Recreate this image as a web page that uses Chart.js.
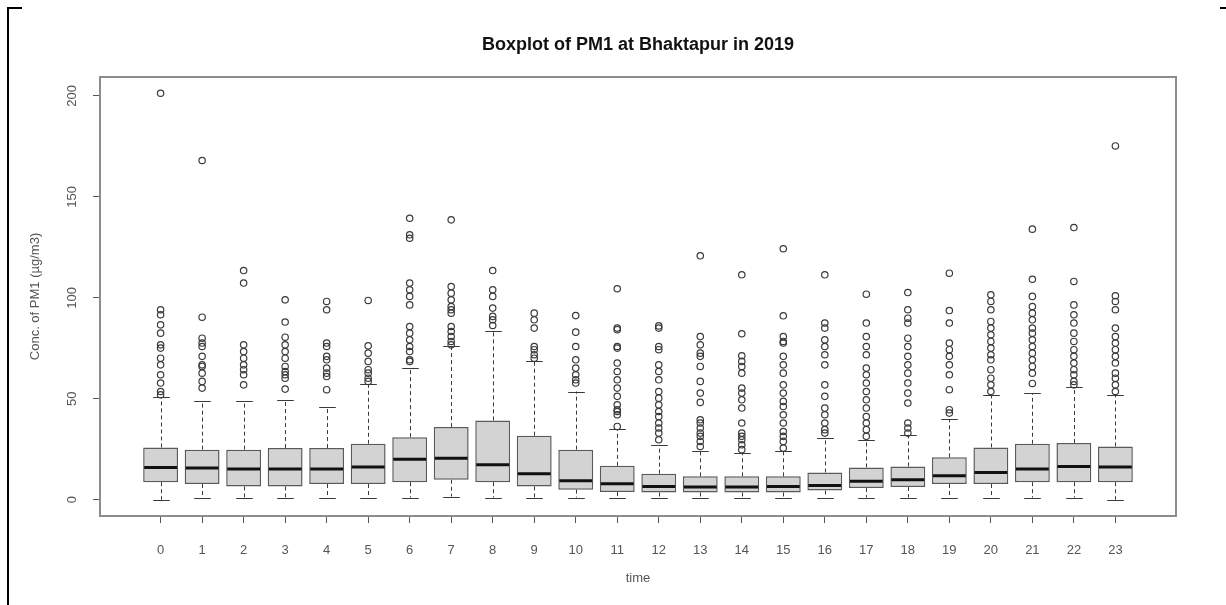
<!DOCTYPE html>
<html>
<head>
<meta charset="utf-8">
<title>Boxplot of PM1 at Bhaktapur in 2019</title>
<script src="https://cdn.jsdelivr.net/npm/chart.js@4.4.1/dist/chart.umd.min.js"></script>
<style>
  html, body { margin: 0; padding: 0; background: #fff; }
  #wrap { position: relative; width: 1226px; height: 605px; overflow: hidden; }
  #wrap canvas { position: absolute; left: 0; top: 0; }
  /* bits of the page frame around the figure */
  .edge { position: absolute; background: #000; }
</style>
</head>
<body>
<div id="wrap">
  <canvas id="c" width="1226" height="605"></canvas>
  <div class="edge" style="left:7px;top:7px;width:2px;height:598px"></div>
  <div class="edge" style="left:7px;top:7px;width:15px;height:2px"></div>
  <div class="edge" style="left:1220px;top:7px;width:6px;height:2px"></div>
</div>
<script>
// ---- data (hour of day -> PM1, µg/m3) ----
const hours = [0, 1, 2, 3, 4, 5, 6, 7, 8, 9, 10, 11, 12, 13, 14, 15, 16, 17, 18, 19, 20, 21, 22, 23];
const yTicks = [0, 50, 100, 150, 200];

const whiskerLow  = [0, 0.8, 0.8, 0.8, 0.8, 0.8, 1.1, 1.6, 1.1, 1.1, 1.1, 1.1, 1.1, 1.1, 1.1, 1.1, 1.1, 1.1, 1.1, 0.8, 1.1, 1.1, 1.1, 0];
const q1          = [8.7, 7.8, 6.6, 6.6, 7.8, 7.8, 8.7, 9.9, 8.7, 6.6, 5.0, 3.8, 3.6, 3.6, 3.6, 3.6, 4.6, 5.8, 6.3, 7.8, 7.8, 8.7, 8.7, 8.7];
const medians     = [16.0, 15.7, 15.2, 15.2, 15.2, 16.2, 20.1, 20.6, 17.3, 12.9, 9.4, 7.9, 6.6, 6.3, 6.3, 6.6, 7.1, 9.1, 9.9, 11.9, 13.5, 15.2, 16.5, 16.2];
const q3          = [25.9, 24.8, 24.8, 25.6, 25.6, 27.7, 31.0, 36.0, 39.3, 31.7, 24.8, 16.8, 12.9, 11.6, 11.6, 11.6, 13.5, 16.0, 16.5, 21.0, 25.9, 27.7, 28.1, 26.4];
const whiskerHigh = [50.7, 48.7, 48.7, 49.5, 45.7, 57.4, 65.2, 75.9, 83.8, 68.5, 53.6, 35.0, 27.2, 23.9, 23.1, 23.9, 30.5, 29.7, 32.2, 39.9, 52.0, 52.8, 55.8, 52.0];

// outliers per hour (one list per box)
const outlierValues = [
  [201.3, 94.1, 91.6, 86.6, 82.5, 76.7, 75.1, 70.1, 66.8, 61.9, 57.8, 53.6, 52.0],
  [168.0, 90.4, 80.0, 77.6, 75.9, 71.0, 66.8, 66.0, 62.7, 58.6, 55.3],
  [113.5, 107.3, 76.7, 73.4, 70.1, 66.8, 64.4, 61.9, 56.9],
  [99.0, 88.0, 80.5, 76.7, 73.4, 70.1, 66.0, 63.5, 61.9, 60.2, 54.8],
  [98.2, 94.1, 77.6, 75.9, 71.0, 69.3, 65.2, 62.7, 61.0, 54.5],
  [98.7, 76.2, 72.6, 68.5, 64.4, 62.7, 60.2, 58.6],
  [139.4, 131.2, 129.5, 107.3, 104.0, 100.7, 96.5, 85.8, 82.5, 79.2, 75.9, 73.4, 69.3, 68.5],
  [138.6, 105.6, 102.3, 99.0, 95.7, 94.1, 92.4, 85.8, 83.3, 80.8, 78.4, 76.7],
  [113.5, 104.0, 100.7, 94.9, 90.8, 89.1, 86.3],
  [92.4, 89.1, 85.0, 75.9, 74.3, 71.8, 70.1],
  [91.2, 83.0, 75.9, 69.3, 65.2, 61.9, 59.4, 57.8],
  [104.5, 85.0, 84.2, 75.9, 75.1, 67.7, 63.5, 59.4, 55.3, 51.2, 47.0, 44.6, 43.7, 42.1, 36.3],
  [86.1, 85.0, 75.9, 74.3, 66.8, 63.5, 59.4, 53.6, 50.3, 47.0, 43.7, 41.2, 38.0, 35.5, 33.0, 29.7],
  [120.8, 80.8, 76.7, 72.6, 71.0, 66.0, 58.6, 52.8, 48.2, 39.6, 38.0, 35.5, 33.0, 31.4, 28.9, 26.4],
  [111.4, 82.2, 71.3, 68.5, 66.0, 62.7, 55.3, 52.8, 49.5, 45.4, 38.0, 33.0, 31.4, 29.7, 27.2, 24.8],
  [124.3, 91.1, 80.8, 78.4, 77.6, 71.0, 66.8, 62.7, 56.9, 52.8, 48.7, 46.2, 42.1, 38.0, 33.8, 31.4, 28.9, 25.6],
  [111.4, 87.5, 85.0, 79.2, 75.9, 71.8, 66.8, 56.9, 51.2, 45.4, 42.1, 38.0, 34.7, 33.0],
  [101.8, 87.5, 80.8, 75.9, 71.8, 65.2, 61.9, 57.8, 53.6, 49.5, 45.4, 41.2, 38.0, 34.7, 31.4],
  [102.6, 94.1, 89.9, 87.5, 80.0, 75.9, 71.0, 66.8, 62.7, 57.8, 52.8, 47.9, 38.0, 35.5, 33.0],
  [112.2, 93.7, 87.5, 77.6, 74.3, 71.0, 66.8, 61.9, 54.5, 44.6, 42.9],
  [101.5, 98.2, 94.1, 88.3, 85.0, 81.7, 78.4, 75.1, 71.8, 69.3, 64.4, 60.2, 56.9, 53.6],
  [134.0, 109.2, 100.7, 95.7, 92.4, 89.1, 85.0, 82.5, 79.2, 75.9, 72.6, 69.3, 66.0, 62.7, 57.6],
  [134.8, 108.1, 96.5, 91.6, 87.5, 82.5, 78.4, 74.3, 71.0, 67.7, 64.4, 61.9, 58.6, 56.9],
  [175.2, 101.0, 98.2, 94.1, 85.0, 80.8, 77.6, 74.3, 71.0, 67.7, 62.7, 60.2, 56.9, 53.6],
];

const FONT = "'Liberation Sans', Arial, sans-serif";

// whiskers + staples go behind the boxes, medians on top of them
const boxParts = {
  id: "boxParts",
  beforeDatasetsDraw(chart) {
    const { ctx, scales: { x, y } } = chart;
    const unit = x.getPixelForValue(1) - x.getPixelForValue(0);
    const cap = unit * 0.2;
    ctx.save();
    ctx.strokeStyle = "#3a3a3a";
    ctx.lineWidth = 1;
    hours.forEach((h, i) => {
      const cx = Math.round(x.getPixelForValue(h)) + 0.5;
      ctx.setLineDash([4, 3]);
      ctx.beginPath();
      ctx.moveTo(cx, y.getPixelForValue(q3[i])); ctx.lineTo(cx, y.getPixelForValue(whiskerHigh[i]));
      ctx.moveTo(cx, y.getPixelForValue(q1[i])); ctx.lineTo(cx, y.getPixelForValue(whiskerLow[i]));
      ctx.stroke();
      ctx.setLineDash([]);
      ctx.beginPath();
      [whiskerHigh[i], whiskerLow[i]].forEach(v => {
        const py = Math.round(y.getPixelForValue(v)) + 0.5;
        ctx.moveTo(cx - cap, py); ctx.lineTo(cx + cap, py);
      });
      ctx.stroke();
    });
    ctx.restore();
  },
  afterDatasetDraw(chart, args) {
    if (args.index !== 0) return;
    const { ctx, scales: { x, y } } = chart;
    const unit = x.getPixelForValue(1) - x.getPixelForValue(0);
    const half = unit * 0.42;
    ctx.save();
    ctx.strokeStyle = "#111";
    ctx.lineWidth = 3;
    hours.forEach((h, i) => {
      const cx = x.getPixelForValue(h), py = y.getPixelForValue(medians[i]);
      ctx.beginPath(); ctx.moveTo(cx - half + 1, py); ctx.lineTo(cx + half - 1, py); ctx.stroke();
    });
    ctx.restore();
  },
  afterDraw(chart) {
    const { ctx, chartArea: a, scales: { y } } = chart;
    ctx.save();
    // plot frame (R box())
    ctx.strokeStyle = "#8c8c8c";
    ctx.lineWidth = 2;
    ctx.strokeRect(a.left, a.top, a.right - a.left, a.bottom - a.top);
    // y tick labels, parallel to the axis
    ctx.fillStyle = "#555";
    ctx.font = "13px " + FONT;
    ctx.textAlign = "center";
    ctx.textBaseline = "middle";
    y.ticks.forEach(t => {
      ctx.save();
      ctx.translate(72, y.getPixelForValue(t.value));
      ctx.rotate(-Math.PI / 2);
      ctx.fillText(String(t.value), 0, 0);
      ctx.restore();
    });
    ctx.restore();
  },
};

const boxData = hours.map((h, i) => ({ x: h, y: [q1[i], q3[i]] }));
const outlierPoints = [];
outlierValues.forEach((vals, i) => vals.forEach(v => outlierPoints.push({ x: hours[i], y: v })));

new Chart(document.getElementById("c"), {
  type: "bar",
  data: {
    datasets: [
      { type: "bar", label: "box", data: boxData,
        backgroundColor: "#d3d3d3", borderColor: "#5a5a5a", borderWidth: 1.5, borderSkipped: false,
        barPercentage: 1, categoryPercentage: 0.84, order: 2 },
      { type: "scatter", label: "outliers", data: outlierPoints,
        pointStyle: "circle", pointRadius: 3.2, pointBorderWidth: 1.2,
        pointBorderColor: "#3a3a3a", pointBackgroundColor: "rgba(0,0,0,0)", order: 1 },
    ],
  },
  options: {
    responsive: false,
    animation: false,
    layout: { padding: { left: 0, right: 50, top: 0, bottom: 0 } },
    plugins: {
      legend: { display: false },
      tooltip: { enabled: false },
      title: { display: true, fullSize: false, text: "Boxplot of PM1 at Bhaktapur in 2019", color: "#111",
               font: { family: FONT, size: 18, weight: "bold" }, padding: { top: 34, bottom: 21.4 } },
    },
    scales: {
      x: {
        type: "linear", min: -1.46, max: 24.46, offset: false,
        afterBuildTicks: s => { s.ticks = hours.map(v => ({ value: v })); },
        afterFit: s => { s.height = 89; },
        grid: { offset: false, drawOnChartArea: false, drawTicks: true, tickLength: 7, color: "#555" },
        border: { display: false },
        ticks: { color: "#555", font: { family: FONT, size: 13 }, padding: 20, autoSkip: false,
                 maxRotation: 0, callback: v => String(v) },
        title: { display: true, text: "time", color: "#555", font: { family: FONT, size: 13 },
                 padding: { top: 0, bottom: 19 } },
      },
      y: {
        type: "linear", min: -8.05, max: 209.35,
        afterBuildTicks: s => { s.ticks = yTicks.map(v => ({ value: v })); },
        afterFit: s => { s.width = 100; },
        grid: { offset: false, drawOnChartArea: false, drawTicks: true, tickLength: 7, color: "#555" },
        border: { display: false },
        ticks: { display: false },
        title: { display: true, text: "Conc. of PM1 (µg/m3)", color: "#555", font: { family: FONT, size: 13 },
                 padding: { top: 28, bottom: 0 } },
      },
    },
  },
  plugins: [boxParts],
});
</script>
</body>
</html>
